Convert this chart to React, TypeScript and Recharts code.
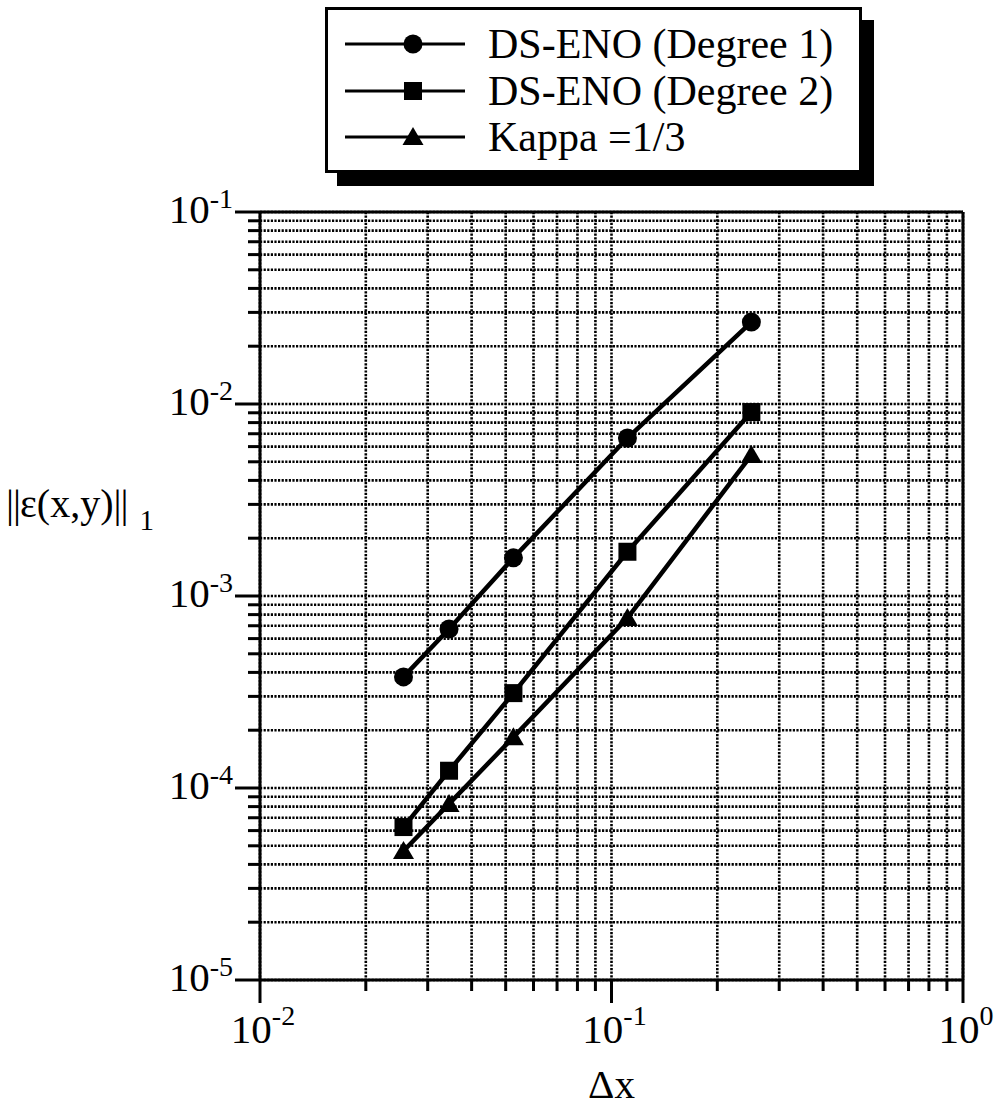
import React from "react";
import {
  LineChart,
  Line,
  XAxis,
  YAxis,
  CartesianGrid,
  ReferenceLine,
  Legend,
} from "recharts";

// grid spacing dx and L1 error of each scheme
const dx = [0.0256, 0.0345, 0.0526, 0.111, 0.25];
const degree1 = [3.79e-4, 6.73e-4, 1.58e-3, 6.65e-3, 2.67e-2];
const degree2 = [6.26e-5, 1.23e-4, 3.12e-4, 1.7e-3, 9.08e-3];
const kappa = [4.7e-5, 8.26e-5, 1.84e-4, 7.68e-4, 5.42e-3];

const seriesNames = ["DS-ENO (Degree 1)", "DS-ENO (Degree 2)", "Kappa =1/3"];
const seriesMarkers = ["circle", "square", "triangle"];

// log ticks: every mantissa of every decade, plus the closing decade
const mantissas = [1, 2, 3, 4, 5, 6, 7, 8, 9];
const xDecades = [0.01, 0.1];
const yDecades = [1e-5, 1e-4, 1e-3, 1e-2];
const xTicks = [...xDecades.flatMap((d) => mantissas.map((m) => m * d)), 1];
const yTicks = [...yDecades.flatMap((d) => mantissas.map((m) => m * d)), 0.1];

const serif = "'Liberation Serif', 'Times New Roman', serif";

const toRows = (ys: number[]) => dx.map((x, i) => ({ x, y: ys[i] }));
const series = [degree1, degree2, kappa].map((ys, i) => ({
  name: seriesNames[i],
  marker: seriesMarkers[i],
  data: toRows(ys),
}));

const isDecade = (v: number) => {
  const l = Math.log10(v);
  return Math.abs(l - Math.round(l)) < 1e-6;
};
const exponent = (v: number) => String(Math.round(Math.log10(v)));

const Marker = ({ kind, cx, cy }: { kind: string; cx: number; cy: number }) => {
  if (kind === "circle") return <circle cx={cx} cy={cy} r={9.5} fill="#000" />;
  if (kind === "square")
    return <rect x={cx - 9} y={cy - 9} width={18} height={18} fill="#000" />;
  return (
    <path d={`M${cx},${cy - 10} L${cx + 10.5},${cy + 8} L${cx - 10.5},${cy + 8} Z`} fill="#000" />
  );
};

const XTick = (props: any) => {
  const { x, y, payload } = props;
  const major = isDecade(payload.value);
  return (
    <g>
      <line x1={x} x2={x} y1={y} y2={y + (major ? 23 : 11)} stroke="#000" strokeWidth={3} />
      {major && (
        <text x={x + 3} y={y + 63} textAnchor="middle" fontFamily={serif} fontSize={41} fill="#000">
          10
          <tspan dy={-18} fontSize={28}>
            {exponent(payload.value)}
          </tspan>
        </text>
      )}
    </g>
  );
};

const YTick = (props: any) => {
  const { x, y, payload } = props;
  const major = isDecade(payload.value);
  return (
    <g>
      <line x1={x - (major ? 25 : 12)} x2={x} y1={y} y2={y} stroke="#000" strokeWidth={3} />
      {major && (
        <text x={x - 27} y={y + 11} textAnchor="end" fontFamily={serif} fontSize={41} fill="#000">
          10
          <tspan dy={-15} fontSize={28}>
            {exponent(payload.value)}
          </tspan>
        </text>
      )}
    </g>
  );
};

const LegendBox = ({ payload }: any) => {
  const items = (payload ?? []).map((p: any, i: number) => ({
    name: p.value as string,
    marker: series.find((s) => s.name === p.value)?.marker ?? seriesMarkers[i],
  }));
  return (
    <div
      style={{
        boxSizing: "border-box",
        width: 537,
        height: 166,
        border: "3px solid #000",
        background: "#fff",
        boxShadow: "12px 13px 0 #000",
        paddingTop: 11,
      }}
    >
      {items.map((it: any) => (
        <div key={it.name} style={{ display: "flex", alignItems: "center", height: 46.5 }}>
          <svg width={160} height={30} style={{ flex: "none" }}>
            <line x1={17} x2={137} y1={15} y2={15} stroke="#000" strokeWidth={3} />
            <Marker kind={it.marker} cx={85} cy={15} />
          </svg>
          <span
            style={{
              fontFamily: serif,
              fontSize: 42,
              lineHeight: "46px",
              color: "#000",
              whiteSpace: "nowrap",
            }}
          >
            {it.name}
          </span>
        </div>
      ))}
    </div>
  );
};

export default function App() {
  return (
    <div
      style={{
        position: "absolute",
        left: 0,
        top: 0,
        width: 1000,
        height: 1110,
        background: "#fff",
      }}
    >
      <LineChart
        width={1000}
        height={1110}
        margin={{ top: 212, right: 37, bottom: 50, left: 160 }}
      >
        <CartesianGrid stroke="#000" strokeWidth={2.6} strokeDasharray="2.2 1.4" />
        <XAxis
          dataKey="x"
          type="number"
          scale="log"
          domain={[0.01, 1]}
          ticks={xTicks}
          interval={0}
          allowDataOverflow
          height={80}
          tickSize={0}
          tickMargin={0}
          tickLine={false}
          axisLine={{ stroke: "#000", strokeWidth: 3 }}
          tick={<XTick />}
          label={{
            content: ({ viewBox }: any) => (
              <text
                x={viewBox.x + viewBox.width * 0.5}
                y={viewBox.y + 118}
                textAnchor="middle"
                fontFamily={serif}
                fontSize={41}
                fill="#000"
              >
                Δx
              </text>
            ),
          }}
        />
        <YAxis
          dataKey="y"
          type="number"
          scale="log"
          domain={[1e-5, 0.1]}
          ticks={yTicks}
          interval={0}
          allowDataOverflow
          width={100}
          tickSize={0}
          tickMargin={0}
          tickLine={false}
          axisLine={{ stroke: "#000", strokeWidth: 3 }}
          tick={<YTick />}
          label={{
            content: ({ viewBox }: any) => (
              <text
                x={viewBox.x - 154}
                y={viewBox.y + viewBox.height * 0.397}
                fontFamily={serif}
                fontSize={40}
                fill="#000"
              >
                <tspan letterSpacing={-1}>||</tspan>ε(x,y)<tspan letterSpacing={-1}>||</tspan>
                <tspan dx={12} dy={13} fontSize={29}>
                  1
                </tspan>
              </text>
            ),
          }}
        />
        <ReferenceLine y={0.1} stroke="#000" strokeWidth={3} />
        <ReferenceLine x={1} stroke="#000" strokeWidth={3} />
        <Legend
          layout="vertical"
          align="center"
          verticalAlign="middle"
          content={(props: any) => <LegendBox payload={props.payload} />}
          wrapperStyle={{ left: 325, top: 7, width: 537, height: 166 }}
        />
        {series.map((s) => (
          <Line
            key={s.name}
            name={s.name}
            data={s.data}
            dataKey="y"
            type="linear"
            stroke="#000"
            strokeWidth={4.5}
            isAnimationActive={false}
            legendType="line"
            dot={(p: any) => (
              <Marker key={`${s.marker}-${p.index}`} kind={s.marker} cx={p.cx} cy={p.cy} />
            )}
            activeDot={false}
          />
        ))}
      </LineChart>
    </div>
  );
}
